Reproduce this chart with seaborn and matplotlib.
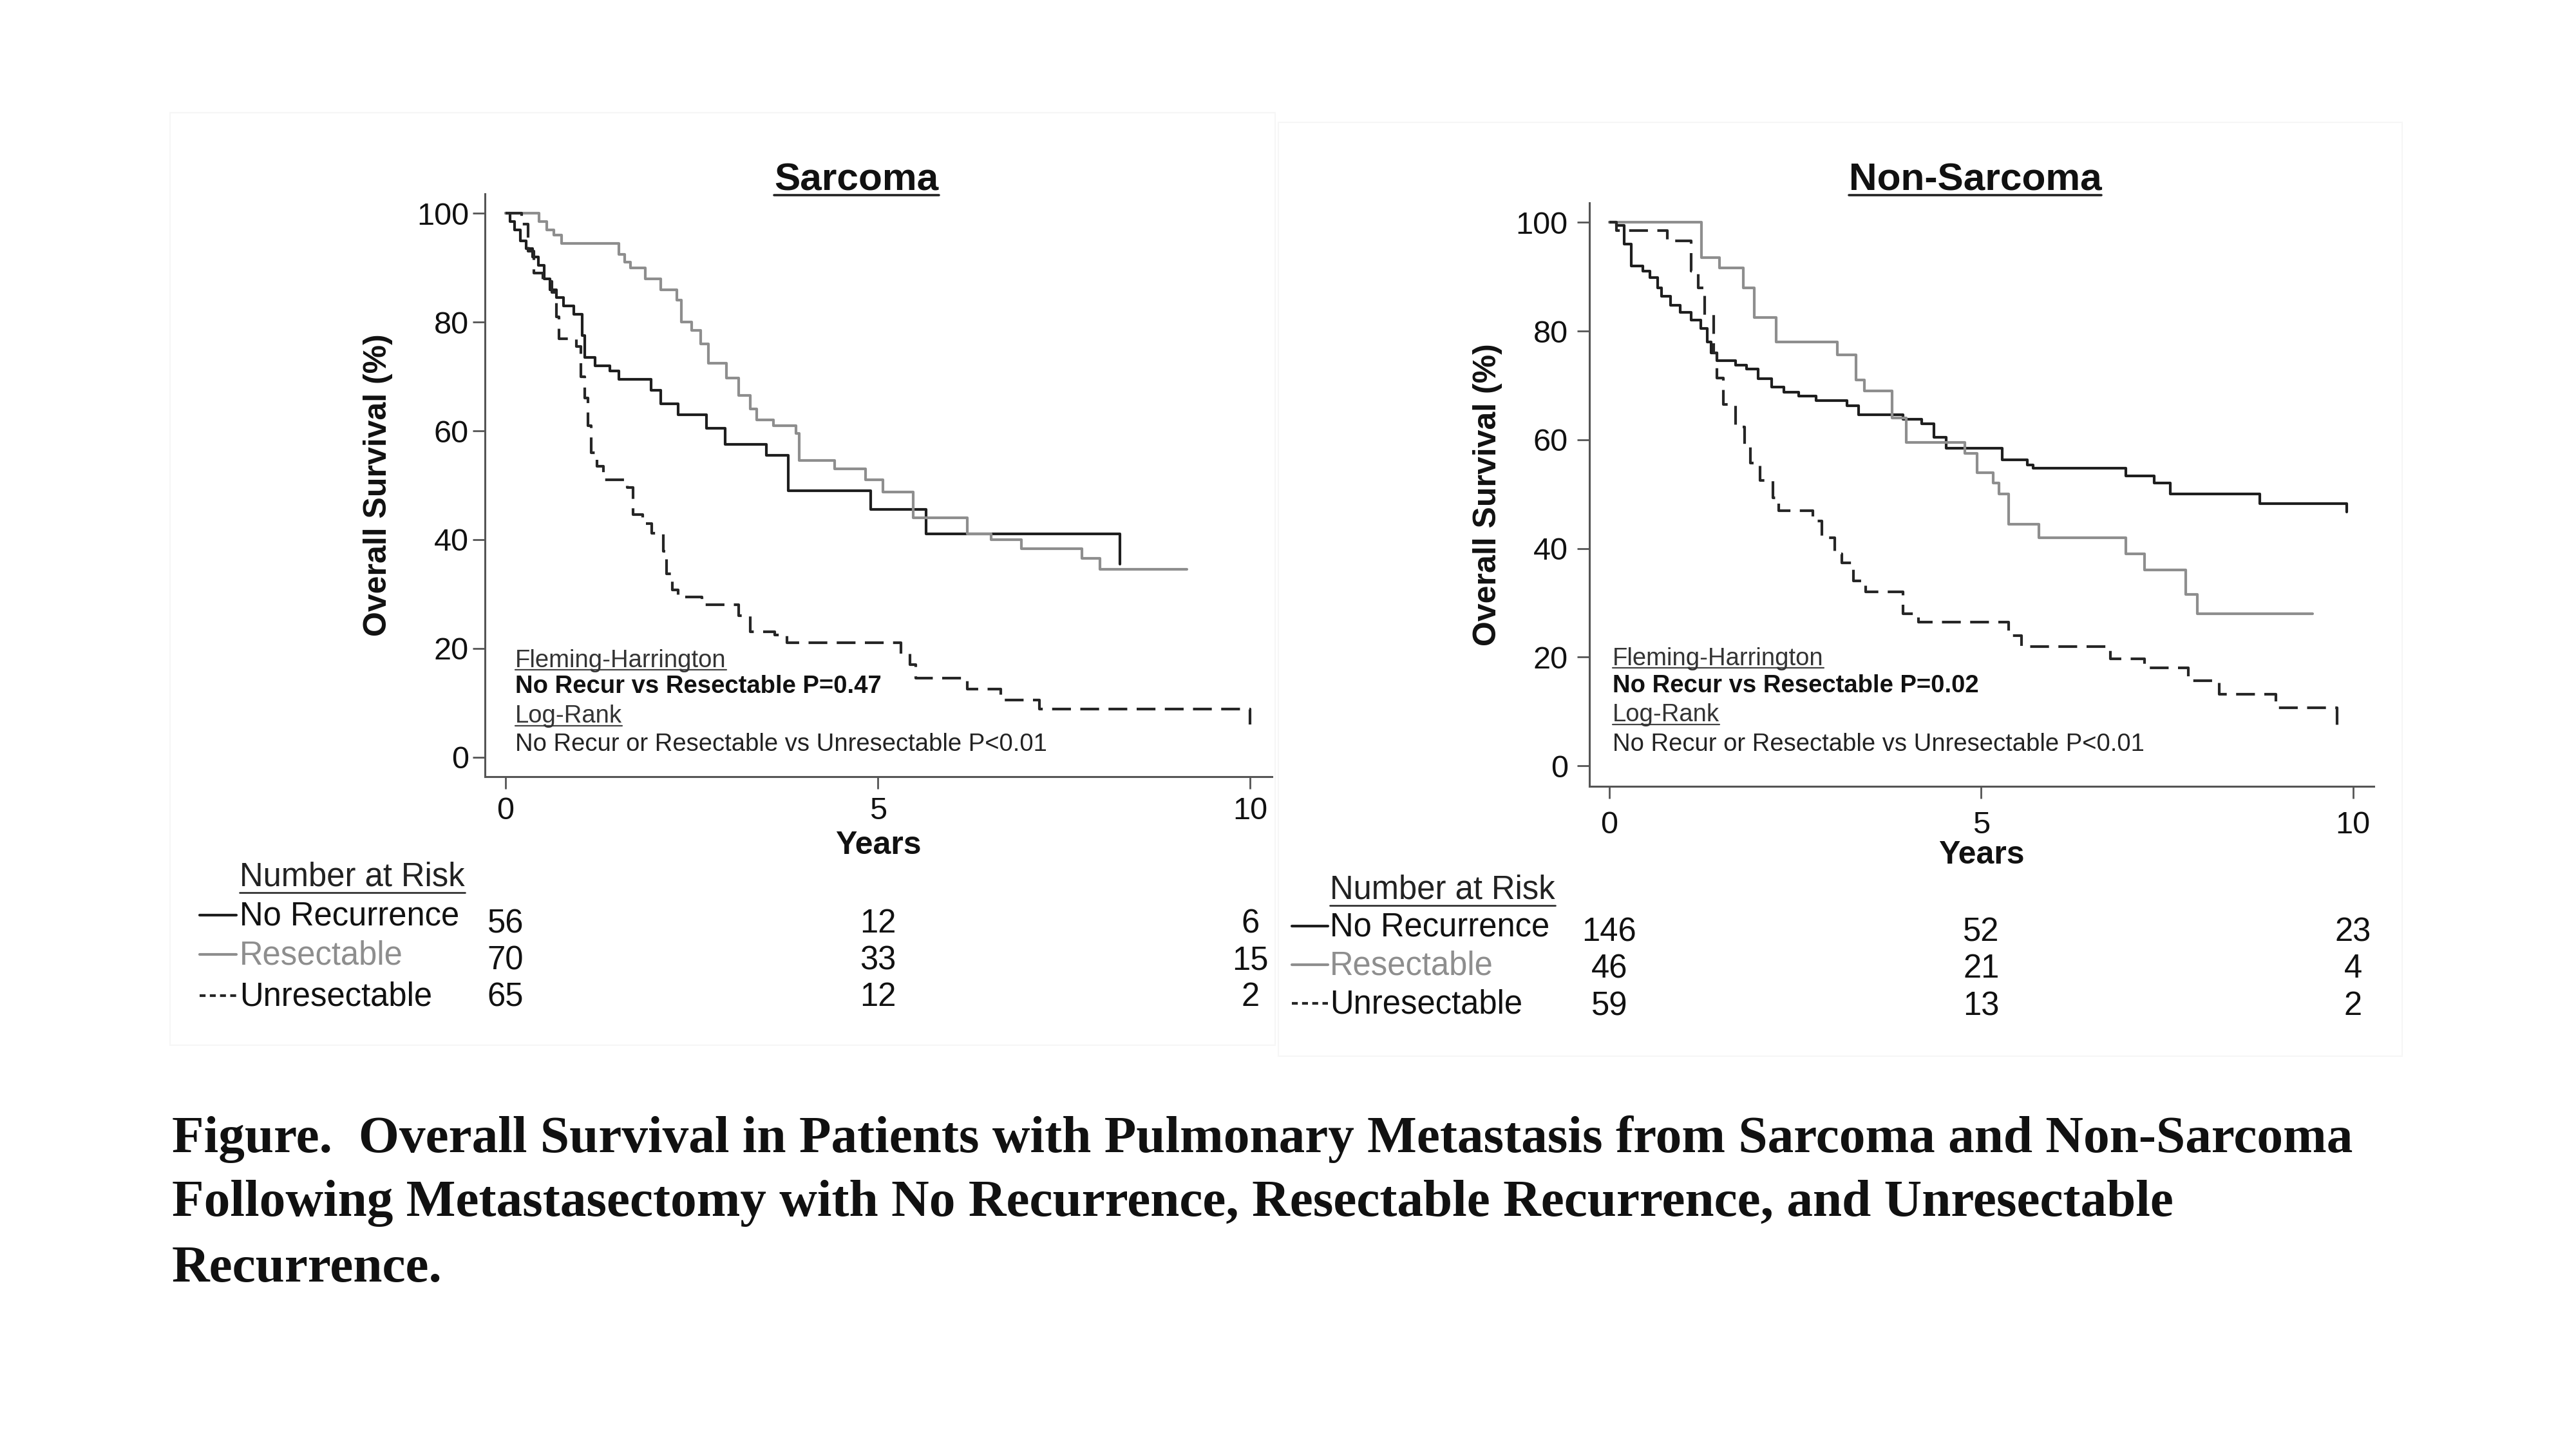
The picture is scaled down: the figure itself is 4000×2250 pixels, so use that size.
import matplotlib
matplotlib.use('Agg')
import matplotlib.pyplot as plt
import matplotlib.transforms as mtransforms
from matplotlib.lines import Line2D
from matplotlib.patches import Rectangle
import seaborn as sns
import pandas as pd

# --- Sarcoma: Kaplan-Meier steps (years, overall survival %)
sarc_norec_t = [0, 0.06, 0.12, 0.2, 0.28, 0.36, 0.44, 0.52, 0.6, 0.68, 0.78, 0.92, 1.03, 1.06,
                1.2, 1.4, 1.52, 1.95, 2.08, 2.32, 2.7, 2.95, 3.5, 3.8, 4.9, 5.65, 8.25]
sarc_norec_s = [100, 98.5, 97, 95, 93.5, 92, 90.5, 88, 86, 84.5, 83, 81.5, 77.5, 73.5,
                72, 71, 69.5, 67.5, 65, 63, 60.5, 57.5, 55.5, 49, 45.5, 41, 35.5]

sarc_resect_t = [0, 0.45, 0.55, 0.65, 0.75, 1.52, 1.6, 1.68, 1.88, 2.08, 2.3, 2.36, 2.5, 2.62,
                 2.72, 2.97, 3.13, 3.29, 3.37, 3.6, 3.9, 3.94, 4.42, 4.83, 5.07, 5.47, 6.2,
                 6.52, 6.93, 7.74, 7.98, 9.15]
sarc_resect_s = [100, 98.5, 97, 96, 94.5, 92.5, 91, 90, 88, 86, 84, 80, 78.5, 76,
                 72.5, 69.7, 66.5, 64, 62, 61, 59.5, 54.6, 53, 51, 48.7, 44, 41,
                 40, 38.3, 36.5, 34.5, 34.5]

sarc_unres_t = [0, 0.22, 0.3, 0.38, 0.5, 0.62, 0.68, 0.72, 0.95, 1.01, 1.06, 1.11, 1.15, 1.23,
                1.31, 1.63, 1.71, 1.84, 1.96, 2.12, 2.16, 2.24, 2.32, 2.64, 3.13, 3.29, 3.61,
                3.78, 5.31, 5.43, 5.51, 6.2, 6.65, 7.17, 10.0]
sarc_unres_s = [100, 98, 93, 89, 87.5, 85.5, 81, 77, 75.5, 70, 66, 61, 56, 53.5,
                51, 49.6, 44.6, 42.9, 41.2, 37.9, 33.7, 30.7, 29.5, 28, 26, 23, 22.5,
                21, 19, 17, 14.5, 12.5, 10.5, 8.8, 6]

# --- Non-Sarcoma
nons_norec_t = [0, 0.1, 0.2, 0.3, 0.45, 0.55, 0.65, 0.7, 0.82, 0.95, 1.1, 1.23, 1.32, 1.37,
                1.45, 1.7, 1.85, 2.0, 2.18, 2.35, 2.55, 2.78, 3.2, 3.35, 3.95, 4.2, 4.37,
                4.53, 5.28, 5.62, 5.7, 6.95, 7.33, 7.54, 8.75, 9.92]
nons_norec_s = [100, 99.5, 96, 92, 91, 89.8, 88, 86.4, 84.8, 83.5, 82, 80.5, 78, 76,
                74.6, 73.7, 73, 71.2, 69.7, 68.8, 68, 67.2, 66.3, 64.6, 63.8, 63, 60.5,
                58.4, 56.3, 55.4, 54.8, 53.4, 52, 50, 48.2, 46.7]

nons_resect_t = [0, 1.24, 1.48, 1.8, 1.95, 2.24, 3.07, 3.32, 3.43, 3.8, 3.99, 4.78, 4.95,
                 5.16, 5.24, 5.37, 5.78, 6.95, 7.2, 7.75, 7.91, 9.46]
nons_resect_s = [100, 93.5, 91.6, 88, 82.5, 78, 75.6, 71, 69, 64, 59.5, 57.5, 54,
                 52, 50, 44.5, 42, 39, 36, 31.5, 28, 28]

nons_unres_t = [0, 0.1, 0.78, 1.1, 1.2, 1.28, 1.4, 1.45, 1.53, 1.7, 1.82, 1.9, 2.03, 2.2,
                2.28, 2.74, 2.86, 3.03, 3.13, 3.28, 3.45, 3.95, 4.16, 5.37, 5.54, 6.74,
                7.2, 7.79, 8.2, 8.96, 9.79]
nons_unres_s = [100, 98.5, 96.6, 91, 88, 83, 76, 71.4, 66.5, 62.4, 59, 55.7, 52.5, 49.3,
                47, 45, 42, 39, 37.4, 34, 32, 28, 26.5, 24, 22, 19.7,
                18, 15.7, 13.2, 10.7, 6]

# --- Number at risk
groups = ['No Recurrence', 'Resectable', 'Unresectable']
risk_years = [0, 5, 10]
sarc_risk_norec = [56, 12, 6]
sarc_risk_resect = [70, 33, 15]
sarc_risk_unres = [65, 12, 2]
nons_risk_norec = [146, 52, 23]
nons_risk_resect = [46, 21, 4]
nons_risk_unres = [59, 13, 2]

caption_lines = [
    'Figure.  Overall Survival in Patients with Pulmonary Metastasis from Sarcoma and Non-Sarcoma',
    'Following Metastasectomy with No Recurrence, Resectable Recurrence, and Unresectable',
    'Recurrence.',
]

W, H = 4000, 2250
BLACK = '#1e1e1e'
GRAY = '#8e8e8e'
DASH = '#262626'
palette = {'No Recurrence': BLACK, 'Resectable': GRAY, 'Unresectable': DASH}
dashes = {'No Recurrence': '', 'Resectable': '', 'Unresectable': (7, 3.5)}
label_colors = {'No Recurrence': '#111111', 'Resectable': GRAY, 'Unresectable': '#111111'}


def fx(x):
    return x / W


def fy(y):
    return 1 - y / H


def build_frame(series):
    frames = []
    for name, (t, s) in zip(groups, series):
        frames.append(pd.DataFrame({'Years': t, 'Survival': s, 'Group': name}))
    return pd.concat(frames, ignore_index=True)


def underline(fig, txt, y_px, lw=2.0, color='#333333'):
    bb = txt.get_window_extent(renderer=fig.canvas.get_renderer())
    fig.add_artist(Line2D([bb.x0 / W, bb.x1 / W], [fy(y_px)] * 2,
                          transform=fig.transFigure, color=color, lw=lw))


sns.set_theme(style='ticks')
plt.rcParams['font.family'] = ['Liberation Sans', 'DejaVu Sans']

fig = plt.figure(figsize=(W / 100, H / 100), dpi=100)
fig.patch.set_facecolor('white')

# faint panel borders of the two exported graphs
for x0, y0, x1, y1 in [(264, 175, 1980, 1623), (1985, 190, 3730, 1640)]:
    fig.add_artist(Rectangle((fx(x0), fy(y1)), (x1 - x0) / W, (y1 - y0) / H,
                             transform=fig.transFigure, facecolor='none',
                             edgecolor='#f6f6f6', lw=1.5))

panels = [
    dict(title='Sarcoma', rect=(753, 301, 1975, 1206), xlim=(-0.277, 10.29), ylim=(-3.6, 103.6),
         series=[(sarc_norec_t, sarc_norec_s), (sarc_resect_t, sarc_resect_s),
                 (sarc_unres_t, sarc_unres_s)],
         risk=[sarc_risk_norec, sarc_risk_resect, sarc_risk_unres],
         pval='No Recur vs Resectable P=0.47', title_x=1330, ylab_x=-0.136, ypad=4, xpad=8,
         note_x=800, note_y=[1036, 1076, 1122, 1166],
         head=(372, 1362), rows=[1423, 1483.5, 1547.5], nums=[1435, 1492, 1549], glyph=(310, 367)),
    dict(title='Non-Sarcoma', rect=(2468, 315, 3686, 1221), xlim=(-0.267, 10.28), ylim=(-3.77, 103.6),
         series=[(nons_norec_t, nons_norec_s), (nons_resect_t, nons_resect_s),
                 (nons_unres_t, nons_unres_s)],
         risk=[nons_risk_norec, nons_risk_resect, nons_risk_unres],
         pval='No Recur vs Resectable P=0.02', title_x=3067, ylab_x=-0.130, ypad=10, xpad=13,
         note_x=2504, note_y=[1033, 1075, 1120, 1166],
         head=(2065, 1382), rows=[1440, 1500, 1560], nums=[1448, 1505, 1563], glyph=(2006, 2062)),
]

for p in panels:
    x0, y0, x1, y1 = p['rect']
    ax = fig.add_axes([fx(x0), fy(y1), (x1 - x0) / W, (y1 - y0) / H])
    df = build_frame(p['series'])
    sns.lineplot(data=df, x='Years', y='Survival', hue='Group', style='Group',
                 palette=palette, dashes=dashes, drawstyle='steps-post',
                 estimator=None, sort=False, linewidth=3, legend=False, ax=ax)
    ax.set_xlim(*p['xlim'])
    ax.set_ylim(*p['ylim'])
    ax.set_xticks(risk_years)
    ax.set_yticks(range(0, 101, 20))
    ax.set_facecolor('white')
    sns.despine(ax=ax)
    for side in ['left', 'bottom']:
        ax.spines[side].set_color('#555555')
        ax.spines[side].set_linewidth(2.2)
    ax.tick_params(axis='both', length=14, width=2, color='#555555', labelsize=35,
                   labelcolor='#111111')
    ax.tick_params(axis='y', pad=p['ypad'])
    ax.tick_params(axis='x', pad=p['xpad'])
    ax.set_ylabel('Overall Survival (%)', fontsize=36, fontweight='bold', va='center',
                  color='#111111')
    ax.yaxis.set_label_coords(p['ylab_x'], 0.5)
    ax.set_xlabel('Years', fontsize=36, fontweight='bold', va='center', color='#111111')
    ax.xaxis.set_label_coords(0.5, -0.118)

    # title, underlined
    t = fig.text(fx(p['title_x']), fy(296), p['title'], fontsize=43.5, fontweight='bold',
                 ha='center', va='baseline', color='#111111')
    underline(fig, t, 303, lw=2.6, color='#222222')

    # test annotations
    nx, ny = p['note_x'], p['note_y']
    t = fig.text(fx(nx), fy(ny[0]), 'Fleming-Harrington', fontsize=27.5, color='#333333',
                 va='baseline')
    underline(fig, t, ny[0] + 4, lw=1.6, color='#444444')
    fig.text(fx(nx), fy(ny[1]), p['pval'], fontsize=27.5, fontweight='bold', color='#111111',
             va='baseline')
    t = fig.text(fx(nx), fy(ny[2]), 'Log-Rank', fontsize=27.5, color='#333333', va='baseline')
    underline(fig, t, ny[2] + 5, lw=1.6, color='#444444')
    fig.text(fx(nx), fy(ny[3]), 'No Recur or Resectable vs Unresectable P<0.01', fontsize=27.5,
             color='#222222', va='baseline')

    # number at risk table
    hx, hy = p['head']
    t = fig.text(fx(hx), fy(hy), 'Number at Risk', fontsize=36.5, color='#222222', va='center')
    underline(fig, t, hy + 24, lw=2.0, color='#333333')
    blend = mtransforms.blended_transform_factory(ax.transData, fig.transFigure)
    gx0, gx1 = p['glyph']
    for name, ry, ny_, counts in zip(groups, p['rows'], p['nums'], p['risk']):
        fig.text(fx(hx), fy(ry), name, fontsize=36.5, color=label_colors[name], va='center')
        style = (0, (2.2, 1.6)) if name == 'Unresectable' else '-'
        fig.add_artist(Line2D([fx(gx0), fx(gx1)], [fy(ry - 2)] * 2, transform=fig.transFigure,
                              color=palette[name], lw=3, linestyle=style))
        for yr, n in zip(risk_years, counts):
            ax.text(yr, fy(ny_), str(n), transform=blend, fontsize=36.5, color='#111111',
                    ha='center', va='center')

for line, base in zip(caption_lines, [1789, 1888, 1990]):
    fig.text(fx(267), fy(base), line, fontsize=58.5, fontweight='bold', va='baseline',
             family=['Liberation Serif', 'DejaVu Serif'], color='#111111')

fig.savefig('out.png', dpi=100, facecolor='white')
